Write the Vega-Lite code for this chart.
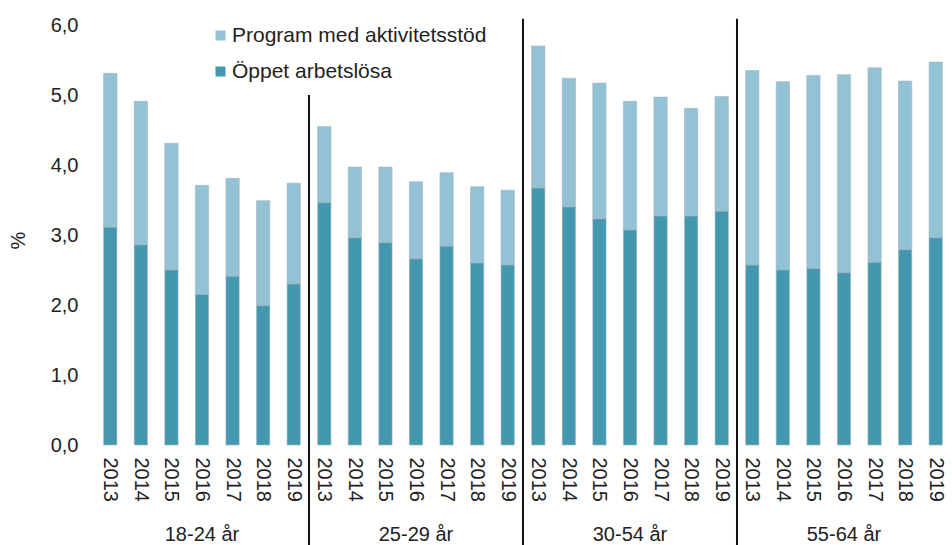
{
  "$schema": "https://vega.github.io/schema/vega-lite/v6.json",
  "autosize": "none",
  "width": 856,
  "height": 420,
  "padding": {"left": 95, "top": 25, "right": 1, "bottom": 100},
  "background": "white",
  "config": {
    "font": "Liberation Sans",
    "view": {"stroke": null},
    "axis": {"labelFont": "Liberation Sans", "titleFont": "Liberation Sans", "labelColor": "#222222", "titleColor": "#222222"}
  },
  "datasets": {
    "bars": [
      {"kat": "18-24 år|2013", "grupp": "18-24 år", "ar": "2013", "Öppet arbetslösa": 3.11, "Program med aktivitetsstöd": 2.20},
      {"kat": "18-24 år|2014", "grupp": "18-24 år", "ar": "2014", "Öppet arbetslösa": 2.86, "Program med aktivitetsstöd": 2.05},
      {"kat": "18-24 år|2015", "grupp": "18-24 år", "ar": "2015", "Öppet arbetslösa": 2.50, "Program med aktivitetsstöd": 1.81},
      {"kat": "18-24 år|2016", "grupp": "18-24 år", "ar": "2016", "Öppet arbetslösa": 2.15, "Program med aktivitetsstöd": 1.56},
      {"kat": "18-24 år|2017", "grupp": "18-24 år", "ar": "2017", "Öppet arbetslösa": 2.41, "Program med aktivitetsstöd": 1.40},
      {"kat": "18-24 år|2018", "grupp": "18-24 år", "ar": "2018", "Öppet arbetslösa": 1.99, "Program med aktivitetsstöd": 1.50},
      {"kat": "18-24 år|2019", "grupp": "18-24 år", "ar": "2019", "Öppet arbetslösa": 2.30, "Program med aktivitetsstöd": 1.44},
      {"kat": "25-29 år|2013", "grupp": "25-29 år", "ar": "2013", "Öppet arbetslösa": 3.46, "Program med aktivitetsstöd": 1.09},
      {"kat": "25-29 år|2014", "grupp": "25-29 år", "ar": "2014", "Öppet arbetslösa": 2.96, "Program med aktivitetsstöd": 1.01},
      {"kat": "25-29 år|2015", "grupp": "25-29 år", "ar": "2015", "Öppet arbetslösa": 2.89, "Program med aktivitetsstöd": 1.08},
      {"kat": "25-29 år|2016", "grupp": "25-29 år", "ar": "2016", "Öppet arbetslösa": 2.66, "Program med aktivitetsstöd": 1.10},
      {"kat": "25-29 år|2017", "grupp": "25-29 år", "ar": "2017", "Öppet arbetslösa": 2.84, "Program med aktivitetsstöd": 1.05},
      {"kat": "25-29 år|2018", "grupp": "25-29 år", "ar": "2018", "Öppet arbetslösa": 2.60, "Program med aktivitetsstöd": 1.09},
      {"kat": "25-29 år|2019", "grupp": "25-29 år", "ar": "2019", "Öppet arbetslösa": 2.57, "Program med aktivitetsstöd": 1.07},
      {"kat": "30-54 år|2013", "grupp": "30-54 år", "ar": "2013", "Öppet arbetslösa": 3.67, "Program med aktivitetsstöd": 2.03},
      {"kat": "30-54 år|2014", "grupp": "30-54 år", "ar": "2014", "Öppet arbetslösa": 3.40, "Program med aktivitetsstöd": 1.84},
      {"kat": "30-54 år|2015", "grupp": "30-54 år", "ar": "2015", "Öppet arbetslösa": 3.23, "Program med aktivitetsstöd": 1.94},
      {"kat": "30-54 år|2016", "grupp": "30-54 år", "ar": "2016", "Öppet arbetslösa": 3.07, "Program med aktivitetsstöd": 1.84},
      {"kat": "30-54 år|2017", "grupp": "30-54 år", "ar": "2017", "Öppet arbetslösa": 3.27, "Program med aktivitetsstöd": 1.70},
      {"kat": "30-54 år|2018", "grupp": "30-54 år", "ar": "2018", "Öppet arbetslösa": 3.27, "Program med aktivitetsstöd": 1.54},
      {"kat": "30-54 år|2019", "grupp": "30-54 år", "ar": "2019", "Öppet arbetslösa": 3.34, "Program med aktivitetsstöd": 1.64},
      {"kat": "55-64 år|2013", "grupp": "55-64 år", "ar": "2013", "Öppet arbetslösa": 2.57, "Program med aktivitetsstöd": 2.78},
      {"kat": "55-64 år|2014", "grupp": "55-64 år", "ar": "2014", "Öppet arbetslösa": 2.50, "Program med aktivitetsstöd": 2.69},
      {"kat": "55-64 år|2015", "grupp": "55-64 år", "ar": "2015", "Öppet arbetslösa": 2.52, "Program med aktivitetsstöd": 2.76},
      {"kat": "55-64 år|2016", "grupp": "55-64 år", "ar": "2016", "Öppet arbetslösa": 2.46, "Program med aktivitetsstöd": 2.83},
      {"kat": "55-64 år|2017", "grupp": "55-64 år", "ar": "2017", "Öppet arbetslösa": 2.61, "Program med aktivitetsstöd": 2.78},
      {"kat": "55-64 år|2018", "grupp": "55-64 år", "ar": "2018", "Öppet arbetslösa": 2.79, "Program med aktivitetsstöd": 2.41},
      {"kat": "55-64 år|2019", "grupp": "55-64 år", "ar": "2019", "Öppet arbetslösa": 2.96, "Program med aktivitetsstöd": 2.51}
    ],
    "labels": [
      {"kat": "18-24 år|2016", "grupp": "18-24 år"},
      {"kat": "25-29 år|2016", "grupp": "25-29 år"},
      {"kat": "30-54 år|2016", "grupp": "30-54 år"},
      {"kat": "55-64 år|2016", "grupp": "55-64 år"}
    ]
  },
  "layer": [
    {
      "data": {"name": "bars"},
      "transform": [{"fold": ["Program med aktivitetsstöd", "Öppet arbetslösa"], "as": ["serie", "varde"]}],
      "mark": {"type": "bar", "stroke": "#a3b6bd", "strokeWidth": 0.6},
      "encoding": {
        "x": {
          "field": "kat", "type": "nominal", "sort": null,
          "scale": {"paddingInner": 0.565, "paddingOuter": 0.2825},
          "axis": {
            "title": null, "labelAngle": 90, "labelExpr": "split(datum.value, '|')[1]",
            "labelFontSize": 20, "ticks": false, "domain": false, "labelPadding": 12
          }
        },
        "y": {
          "field": "varde", "type": "quantitative", "stack": "zero",
          "scale": {"domain": [0, 6], "nice": false},
          "axis": {
            "title": "%", "titleFontSize": 20, "titleFontWeight": "normal", "titleAngle": -90,
            "titleX": -77, "titleY": 215, "titleAlign": "center", "titleBaseline": "middle",
            "values": [0, 1, 2, 3, 4, 5, 6], "labelExpr": "replace(format(datum.value, '.1f'), '.', ',')",
            "labelFontSize": 20, "grid": false, "domain": false, "ticks": false, "labelPadding": 17
          }
        },
        "color": {
          "field": "serie", "type": "nominal",
          "scale": {"domain": ["Program med aktivitetsstöd", "Öppet arbetslösa"], "range": ["#93c2d4", "#4398b0"]},
          "legend": {
            "title": null, "orient": "none", "legendX": 115, "legendY": 0,
            "labelFontSize": 21, "labelColor": "#222222", "labelLimit": 0, "symbolType": "square", "symbolSize": 100,
            "symbolStrokeWidth": 0, "labelOffset": 1, "rowPadding": 14
          }
        },
        "order": {"field": "serie", "sort": "descending"}
      }
    },
    {
      "data": {"values": [{"kat": "18-24 år|2019"}]},
      "mark": {"type": "rule", "color": "#111111", "strokeWidth": 2, "clip": false},
      "encoding": {
        "x": {"field": "kat", "type": "nominal", "sort": null, "bandPosition": 1.649},
        "y": {"datum": 5.0, "type": "quantitative"},
        "y2": {"datum": -1.5}
      }
    },
    {
      "data": {"values": [{"kat": "25-29 år|2019"}, {"kat": "30-54 år|2019"}]},
      "mark": {"type": "rule", "color": "#111111", "strokeWidth": 2, "clip": false},
      "encoding": {
        "x": {"field": "kat", "type": "nominal", "sort": null, "bandPosition": 1.649},
        "y": {"datum": 6.09, "type": "quantitative"},
        "y2": {"datum": -1.5}
      }
    },
    {
      "data": {"name": "labels"},
      "mark": {"type": "text", "fontSize": 20, "color": "#222222", "baseline": "alphabetic", "align": "center", "clip": false},
      "encoding": {
        "x": {"field": "kat", "type": "nominal", "sort": null},
        "y": {"datum": -1.37, "type": "quantitative"},
        "text": {"field": "grupp"}
      }
    }
  ]
}
